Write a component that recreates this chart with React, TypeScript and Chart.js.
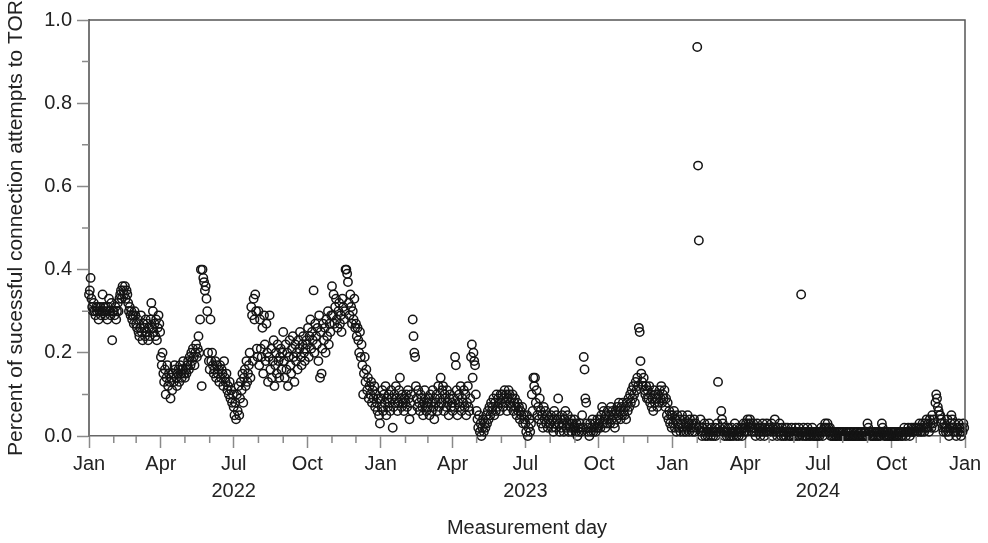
import React, { useEffect, useRef } from 'react';
import { Chart, registerables } from 'chart.js';

Chart.register(...registerables);

// Daily values, in hundredths (0.01 units), one array per month.
const jan22 = [34,35,38,33,31,30,32,30,29,31,30,31,28,30,31,29,30,34,31,30,29,31,30,28,31,33,30,29,32,23,30];
const feb22 = [30,29,31,28,30,32,30,33,34,35,33,36,35,34,36,33,35,34,32,30,31,29,30,28,29,27,30,29];
const mar22 = [27,26,28,25,24,26,29,25,23,27,26,24,28,25,27,23,26,24,28,32,26,30,25,27,24,28,23,26,29,27,25];
const apr22 = [19,17,20,15,13,16,10,14,17,12,15,13,9,14,11,15,13,17,16,14,12,15,16,13,17,15,14,16,18,15];
const may22 = [14,16,15,17,18,16,19,17,20,18,21,19,17,20,22,19,21,24,20,28,40,12,40,38,37,35,36,33,30,20,18];
const jun22 = [16,28,18,20,17,15,16,18,14,17,15,16,13,17,14,16,15,12,18,14,13,15,11,12,10,13,9,11,8,10];
const jul22 = [7,5,8,4,10,6,12,5,9,13,11,15,8,14,16,12,18,13,15,17,20,14,31,29,18,33,28,34,30,21,19];
const aug22 = [30,17,28,21,19,26,15,29,22,18,27,20,13,19,29,16,21,14,18,23,12,17,20,15,22,18,14,19,21,16,20];
const sep22 = [25,18,14,22,16,20,12,19,23,17,15,21,24,19,13,22,18,20,16,23,21,25,19,17,22,24,20,18,21,23];
const oct22 = [22,26,19,24,28,21,25,23,35,20,27,24,22,26,18,29,14,25,15,21,27,23,26,20,28,24,30,22,27,25,29];
const nov22 = [36,29,34,27,31,33,28,26,30,32,27,29,25,33,31,28,30,40,40,39,37,32,29,34,31,27,30,28,33,26];
const dec22 = [27,24,26,23,20,25,19,22,17,10,15,19,13,16,11,14,9,12,10,13,8,11,9,12,7,10,8,6,9,5,3];

const jan23 = [9,7,11,6,10,8,12,5,9,7,10,8,6,11,9,2,7,10,8,12,9,6,8,11,14,9,7,10,8,6,9];
const feb23 = [8,10,7,11,9,4,8,10,6,28,24,20,19,12,9,7,11,8,6,10,9,7,5,8,11,9,6,8];
const mar23 = [7,9,5,10,8,6,11,7,4,9,8,10,6,12,7,9,14,8,11,12,6,10,9,7,11,8,5,9,10,7,8];
const apr23 = [6,9,7,19,17,11,5,8,10,7,12,6,9,8,11,7,10,5,8,12,7,6,9,19,22,14,20,18,17,10];
const may23 = [6,4,2,5,1,3,0,2,4,1,3,2,5,3,6,4,7,5,8,6,7,9,5,8,6,10,7,9,8,6,10];
const jun23 = [8,10,7,9,11,8,10,6,9,11,10,8,7,9,10,6,8,9,7,5,8,6,7,4,6,5,7,3,5,4];
const jul23 = [3,1,5,0,2,4,1,3,10,6,14,12,14,8,11,5,7,4,9,6,3,5,2,7,4,6,3,5,2,4,3];
const aug23 = [3,5,2,4,1,6,3,2,5,4,9,3,1,4,2,5,3,1,4,6,2,3,5,1,3,2,4,1,3,2,4];
const sep23 = [2,1,3,0,2,1,3,2,1,5,2,19,16,9,8,3,1,2,0,3,1,2,4,1,2,3,1,2,4,2];
const oct23 = [3,4,2,5,7,3,6,4,2,5,3,6,4,5,3,7,4,6,5,3,2,6,4,7,5,8,6,4,7,5,8];
const nov23 = [6,5,7,4,8,6,9,7,10,8,11,9,12,10,8,13,11,14,12,26,25,18,15,13,12,14,11,10,12,9];
const dec23 = [11,9,12,8,10,7,9,6,11,8,10,9,7,10,8,11,9,12,8,10,9,11,7,9,5,8,4,6,3,5,2];

const jan24 = [5,3,6,2,4,1,5,3,2,4,1,3,5,2,1,4,3,1,2,5,3,1,4,2,3,1,2,4,1,3,2];
const feb24 = [93.5,65,47,2,4,1,0,2,1,3,0,1,2,0,1,3,1,0,2,1,0,1,2,0,1,3,13,1,2];
const mar24 = [1,6,4,3,1,0,2,1,0,1,2,0,1,0,2,1,0,1,3,1,0,2,1,0,1,2,1,0,2,3,1];
const apr24 = [2,3,1,4,3,2,4,3,1,2,3,1,2,0,1,3,2,1,2,0,1,2,3,1,0,2,1,3,1,2];
const may24 = [1,2,1,3,0,2,1,4,2,1,0,2,1,3,1,0,2,1,0,1,2,0,1,2,1,0,1,0,2,1,0];
const jun24 = [1,0,2,1,0,1,2,0,1,34,1,0,2,1,0,1,0,2,1,0,1,0,1,2,0,1,0,1,0,1];
const jul24 = [0,1,0,1,2,1,0,1,2,3,2,1,3,2,1,2,0,1,0,1,0,1,0,0,1,0,1,0,1,0,1];
const aug24 = [0,1,0,0,1,0,1,0,0,1,0,1,0,0,1,0,0,1,0,1,0,0,1,0,1,0,0,1,0,1,0];
const sep24 = [3,2,1,1,0,1,0,1,0,1,0,1,0,1,0,1,0,1,3,2,1,0,1,0,1,0,1,0,0,1];
const oct24 = [0,1,0,1,0,1,0,0,1,0,1,1,0,1,0,1,2,1,0,1,1,2,1,0,1,2,1,1,2,1,2];
const nov24 = [1,2,1,2,3,1,2,1,3,2,1,3,2,4,2,3,1,4,3,2,5,3,4,2,8,10,9,7,6,5];
const dec24 = [5,4,3,2,1,3,2,1,2,4,1,0,2,3,5,4,2,1,3,1,0,2,1,3,2,1,0,2,1,3,2];

const YEARS = [2022, 2023, 2024];
const MONTHS_2022 = [jan22, feb22, mar22, apr22, may22, jun22, jul22, aug22, sep22, oct22, nov22, dec22];
const MONTHS_2023 = [jan23, feb23, mar23, apr23, may23, jun23, jul23, aug23, sep23, oct23, nov23, dec23];
const MONTHS_2024 = [jan24, feb24, mar24, apr24, may24, jun24, jul24, aug24, sep24, oct24, nov24, dec24];
const MONTHS_BY_YEAR = [MONTHS_2022, MONTHS_2023, MONTHS_2024];

const MONTH_LABELS = ['Jan', 'Feb', 'Mar', 'Apr', 'May', 'Jun', 'Jul', 'Aug', 'Sep', 'Oct', 'Nov', 'Dec'];
const Y_TICKS = [0, 0.1, 0.2, 0.3, 0.4, 0.5, 0.6, 0.7, 0.8, 0.9, 1.0];

const X_TITLE = 'Measurement day';
const Y_TITLE = 'Percent of sucessful connection attempts to TOR';

const FONT = "'Liberation Sans', Arial, sans-serif";
const ORIGIN = Date.UTC(2022, 0, 1);
const dayIndex = (y: number, m: number) => (Date.UTC(y, m, 1) - ORIGIN) / 86400000;

const points: { x: number; y: number }[] = [];
YEARS.forEach((yr, yi) => {
  MONTHS_BY_YEAR[yi].forEach((arr, m) => {
    const start = dayIndex(yr, m);
    arr.forEach((v, i) => points.push({ x: start + i, y: v / 100 }));
  });
});

type MT = { value: number; month: number; year: number };
const monthTicks: MT[] = [];
YEARS.forEach((yr) => {
  for (let m = 0; m < 12; m++) monthTicks.push({ value: dayIndex(yr, m), month: m, year: yr });
});
monthTicks.push({ value: dayIndex(2025, 0), month: 0, year: 2025 });
const tickByValue = new Map<number, MT>();
monthTicks.forEach((t) => tickByValue.set(t.value, t));
const isQuarter = (v: number) => {
  const t = tickByValue.get(v);
  return !!t && t.month % 3 === 0;
};
const isMajorY = (v: number) => Math.round(v * 10) % 2 === 0;

const frameAndMinor = {
  id: 'frameAndMinor',
  afterDraw(chart: any) {
    const { ctx, chartArea } = chart;
    const { left, right, top, bottom } = chartArea;
    const xs = chart.scales.x;
    const ys = chart.scales.y;
    ctx.save();
    ctx.strokeStyle = '#8a8a8a';
    ctx.lineWidth = 1.5;
    ctx.beginPath();
    monthTicks.forEach((t) => {
      if (t.month % 3 !== 0) {
        const px = xs.getPixelForValue(t.value);
        ctx.moveTo(px, bottom);
        ctx.lineTo(px, bottom + 7);
      }
    });
    Y_TICKS.forEach((v) => {
      if (!isMajorY(v)) {
        const py = ys.getPixelForValue(v);
        ctx.moveTo(left - 7, py);
        ctx.lineTo(left, py);
      }
    });
    ctx.stroke();
    ctx.strokeStyle = '#555';
    ctx.lineWidth = 1.5;
    ctx.beginPath();
    ctx.moveTo(left, top);
    ctx.lineTo(right, top);
    ctx.lineTo(right, bottom);
    ctx.stroke();
    ctx.restore();
  },
};

export default function App() {
  const ref = useRef<HTMLCanvasElement | null>(null);
  useEffect(() => {
    if (!ref.current) return;
    const chart = new Chart(ref.current, {
      type: 'scatter',
      data: {
        datasets: [
          {
            data: points,
            showLine: false,
            pointStyle: 'circle',
            pointRadius: 4.2,
            pointBorderWidth: 1.5,
            pointBorderColor: '#141414',
            pointBackgroundColor: 'rgba(0,0,0,0)',
            clip: false as any,
          },
        ],
      },
      options: {
        animation: false,
        responsive: false,
        devicePixelRatio: 1,
        layout: { padding: { top: 20, right: 23, left: 0, bottom: 0 } },
        plugins: { legend: { display: false }, tooltip: { enabled: false } },
        scales: {
          x: {
            type: 'linear',
            min: 0,
            max: dayIndex(2025, 0),
            afterBuildTicks: (s: any) => {
              s.ticks = monthTicks.map((t) => ({ value: t.value }));
            },
            afterFit: (s: any) => {
              s.height = 107;
            },
            ticks: {
              autoSkip: false,
              maxRotation: 0,
              minRotation: 0,
              padding: 3,
              color: '#222',
              font: { family: FONT, size: 20, lineHeight: 1.35 },
              callback: (v: any) => {
                const t = tickByValue.get(v);
                if (!t || t.month % 3 !== 0) return '';
                if (t.month === 6) return [MONTH_LABELS[6], String(t.year)];
                return MONTH_LABELS[t.month];
              },
            },
            grid: {
              drawOnChartArea: false,
              tickLength: 12,
              tickWidth: 1.5,
              tickColor: (c: any) => (c.tick && isQuarter(c.tick.value) ? '#8a8a8a' : 'rgba(0,0,0,0)'),
            },
            border: { color: '#666', width: 1.5 },
            title: {
              display: true,
              text: X_TITLE,
              color: '#222',
              font: { family: FONT, size: 20 },
              padding: { top: 0, bottom: 3 },
            },
          },
          y: {
            min: 0,
            max: 1,
            afterBuildTicks: (s: any) => {
              s.ticks = Y_TICKS.map((v) => ({ value: v }));
            },
            afterFit: (s: any) => {
              s.width = 89;
            },
            ticks: {
              padding: 5,
              color: '#222',
              font: { family: FONT, size: 20 },
              callback: (v: any) => (isMajorY(v) ? Number(v).toFixed(1) : ''),
            },
            grid: {
              drawOnChartArea: false,
              tickLength: 12,
              tickWidth: 1.5,
              tickColor: (c: any) => (c.tick && isMajorY(c.tick.value) ? '#8a8a8a' : 'rgba(0,0,0,0)'),
            },
            border: { color: '#777', width: 2 },
            title: {
              display: true,
              text: Y_TITLE,
              color: '#222',
              font: { family: FONT, size: 21 },
              padding: { top: 4, bottom: 0 },
            },
          },
        },
      },
      plugins: [frameAndMinor],
    } as any);
    return () => chart.destroy();
  }, []);
  return (
    <div style={{ position: 'absolute', left: 0, top: 0, width: 988, height: 543, background: '#fff' }}>
      <canvas ref={ref} width={988} height={543} style={{ display: 'block' }} />
    </div>
  );
}
